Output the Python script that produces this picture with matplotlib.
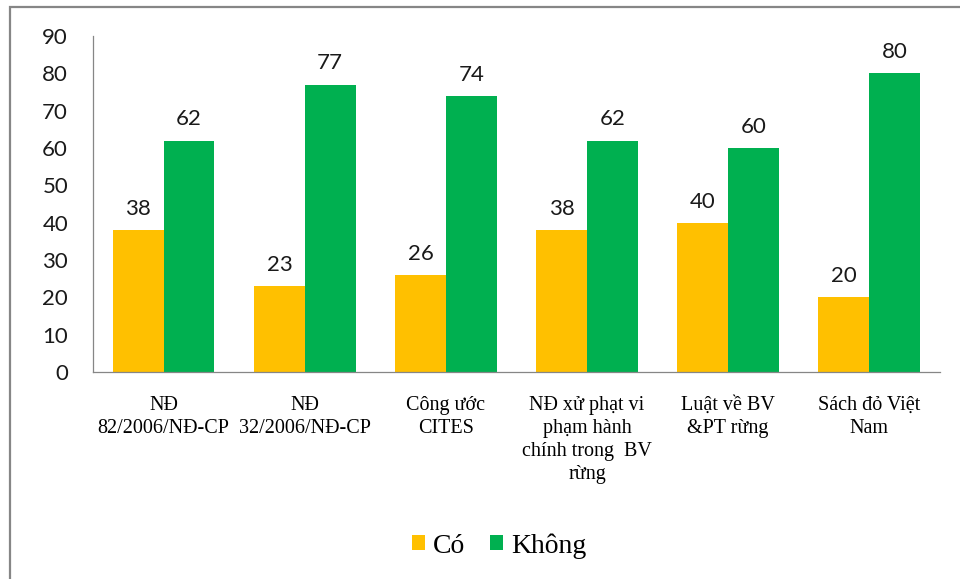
import numpy as np
import matplotlib.pyplot as plt
from matplotlib.patches import Rectangle

# Số liệu khảo sát (%)
categories = [
    "NĐ\n82/2006/NĐ-CP",
    "NĐ\n32/2006/NĐ-CP",
    "Công ước\nCITES",
    "NĐ xử phạt vi\nphạm hành\nchính trong  BV\nrừng",
    "Luật về BV\n&PT rừng",
    "Sách đỏ Việt\nNam",
]
co = [38, 23, 26, 38, 40, 20]
khong = [62, 77, 74, 62, 60, 80]

ORANGE = "#FFC000"
GREEN = "#00B050"
GREY = "#868686"

fig = plt.figure(figsize=(9.6, 5.79), dpi=100)
ax = fig.add_axes([0.097, 0.3575, 0.882, 0.5803])

x = np.arange(len(categories))
w = 0.36
b1 = ax.bar(x - w / 2, co, w, color=ORANGE, label="Có")
b2 = ax.bar(x + w / 2, khong, w, color=GREEN, label="Không")

for bars, vals in ((b1, co), (b2, khong)):
    for rect, v in zip(bars, vals):
        ax.annotate(str(v), (rect.get_x() + rect.get_width() / 2, v),
                    xytext=(0, 8), textcoords="offset points",
                    ha="center", va="bottom", fontsize=16,
                    family="Lato", color="#1a1a1a")

ax.set_xlim(-0.5, len(categories) - 0.5)
ax.set_ylim(0, 90)
ax.set_yticks(range(0, 91, 10))
ax.tick_params(axis="y", length=0, pad=18, labelsize=16, labelcolor="#1a1a1a")
for lbl in ax.get_yticklabels():
    lbl.set_family("Lato")
ax.set_xticks(x)
ax.set_xticklabels(categories, family="Liberation Serif", fontsize=14.5,
                   linespacing=1.3, va="top")
ax.tick_params(axis="x", length=0, pad=17)

for s in ("top", "right"):
    ax.spines[s].set_visible(False)
for s in ("left", "bottom"):
    ax.spines[s].set_color(GREY)
    ax.spines[s].set_linewidth(0.9)

leg = fig.legend(loc="center", bbox_to_anchor=(0.52, 1 - 546 / 579), ncol=2,
                 frameon=False, prop={"family": "Liberation Serif", "size": 20},
                 handlelength=0.45, handleheight=0.45, handletextpad=0.3,
                 columnspacing=0.9)

# khung viền bao quanh biểu đồ
fig.patches.append(Rectangle((9.5 / 960, -0.2), 1.5, 1.2 - 6.5 / 579,
                             transform=fig.transFigure, fill=False,
                             edgecolor=GREY, linewidth=1.6))

fig.savefig("out.png", dpi=100)
